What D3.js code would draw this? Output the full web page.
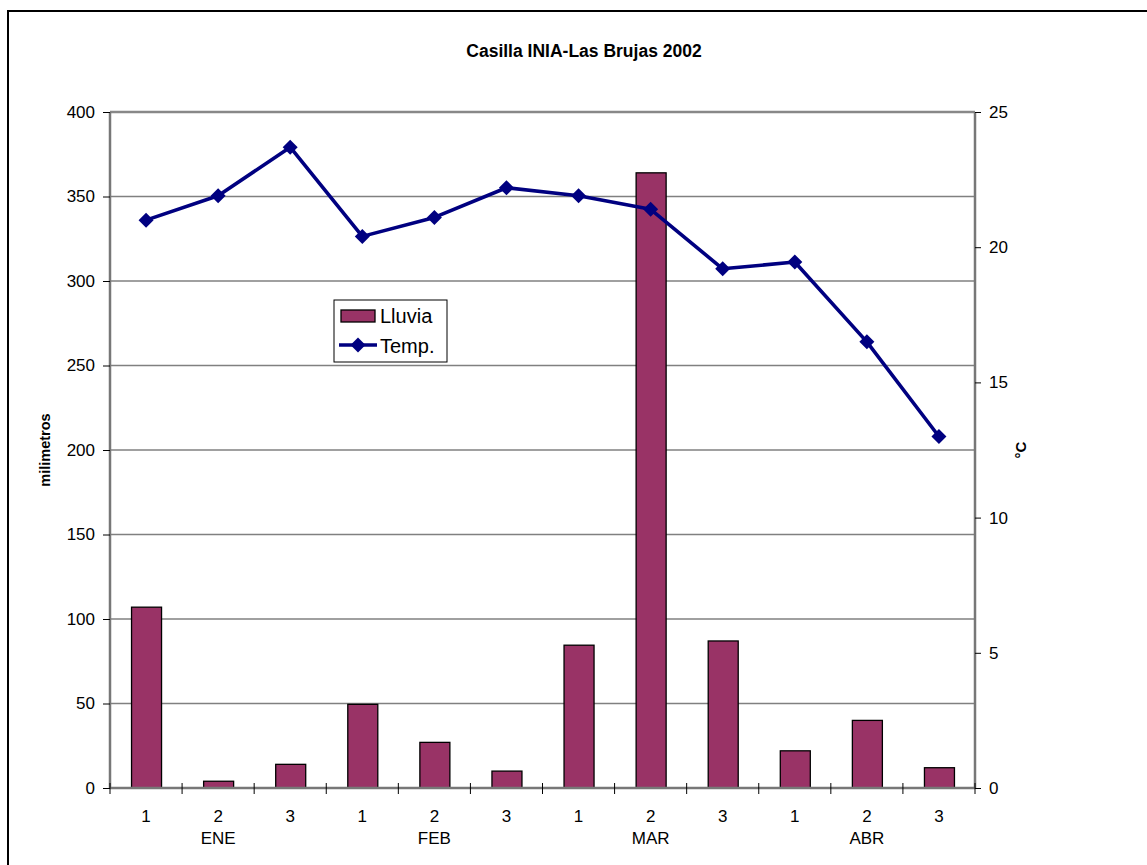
<!DOCTYPE html>
<html><head><meta charset="utf-8">
<script src="https://cdn.jsdelivr.net/npm/d3@7"></script>
<style>body{margin:0;background:#fff;} svg{display:block;font-family:"Liberation Sans",Arial,sans-serif;}</style>
</head><body><svg id="c" width="1147" height="865"></svg>
<script>
const categories = ["1","2","3","1","2","3","1","2","3","1","2","3"];
const months = ["ENE","FEB","MAR","ABR"];
const lluvia = [107, 4, 14, 49.5, 27, 10, 84.5, 364, 87, 22, 40, 12];
const temp = [21.0, 21.9, 23.7, 20.4, 21.1, 22.2, 21.9, 21.4, 19.2, 19.45, 16.5, 13.0];
const leftTicks = [0,50,100,150,200,250,300,350,400];
const rightTicks = [0,5,10,15,20,25];

const FF = "Liberation Sans, Arial, sans-serif";
const svg = d3.select("#c");
const L=110, R=975, T=112, B=788;

svg.append("rect").attr("x",8).attr("y",11).attr("width",1160).attr("height",880)
  .attr("fill","none").attr("stroke","#000").attr("stroke-width",2);

const x = d3.scaleBand().domain(d3.range(categories.length)).range([L,R]);
const yL = d3.scaleLinear().domain([0,400]).range([B,T]);
const yR = d3.scaleLinear().domain([0,25]).range([B,T]);

// gridlines
svg.append("g").selectAll("line").data(leftTicks.filter(d=>d>0&&d<400)).join("line")
  .attr("x1",L).attr("x2",R).attr("y1",d=>yL(d)).attr("y2",d=>yL(d))
  .attr("stroke","#808080").attr("stroke-width",1.3);

// bars
const bw = 30;
svg.append("g").selectAll("rect").data(lluvia).join("rect")
  .attr("x",(d,i)=>x(i)+x.bandwidth()/2-bw/2+0.5).attr("width",bw)
  .attr("y",d=>yL(d)).attr("height",d=>B-yL(d))
  .attr("fill","#993366").attr("stroke","#000").attr("stroke-width",1.3);

// frame
svg.append("line").attr("x1",L).attr("x2",R).attr("y1",T).attr("y2",T).attr("stroke","#888").attr("stroke-width",2.5);
svg.append("line").attr("x1",L).attr("x2",L).attr("y1",T).attr("y2",B).attr("stroke","#777").attr("stroke-width",2.5);
svg.append("line").attr("x1",R).attr("x2",R).attr("y1",T).attr("y2",B).attr("stroke","#777").attr("stroke-width",2.5);
svg.append("line").attr("x1",L).attr("x2",R).attr("y1",B).attr("y2",B).attr("stroke","#777").attr("stroke-width",2.5);

// left axis
const axL = d3.axisLeft(yL).tickValues(leftTicks).tickSize(7).tickPadding(8);
const gL = svg.append("g").attr("transform",`translate(${L},0)`).call(axL);
gL.attr("font-family",FF).attr("font-size",17);
gL.select(".domain").remove();
gL.selectAll("line").attr("stroke","#000");
gL.selectAll("text").attr("fill","#000");

// right axis
const axR = d3.axisRight(yR).tickValues(rightTicks).tickSize(6).tickPadding(8);
const gR = svg.append("g").attr("transform",`translate(${R},0)`).call(axR);
gR.attr("font-family",FF).attr("font-size",17);
gR.select(".domain").remove();
gR.selectAll("line").attr("stroke","#000");
gR.selectAll("text").attr("fill","#000");

// x ticks between categories
const bounds = d3.range(categories.length+1).map(i=> i<categories.length ? x(i) : R);
svg.append("g").selectAll("line").data(bounds).join("line")
  .attr("x1",d=>d).attr("x2",d=>d).attr("y1",B-5).attr("y2",B+6)
  .attr("stroke","#000").attr("stroke-width",1);

svg.append("g").attr("font-family",FF).attr("font-size",17).selectAll("text").data(categories).join("text")
  .attr("x",(d,i)=>x(i)+x.bandwidth()/2).attr("y",822).attr("text-anchor","middle").text(d=>d);
svg.append("g").attr("font-family",FF).attr("font-size",17).selectAll("text").data(months).join("text")
  .attr("x",(d,i)=>x(i*3+1)+x.bandwidth()/2).attr("y",844).attr("text-anchor","middle").text(d=>d);

// temp line
const line = d3.line().x((d,i)=>x(i)+x.bandwidth()/2).y(d=>yR(d));
svg.append("path").datum(temp).attr("d",line).attr("fill","none")
  .attr("stroke","#000080").attr("stroke-width",3.6).attr("stroke-linejoin","round");
const dm = "M0,-7.5L7.5,0L0,7.5L-7.5,0Z";
svg.append("g").selectAll("path").data(temp).join("path")
  .attr("transform",(d,i)=>`translate(${x(i)+x.bandwidth()/2},${yR(d)})`)
  .attr("d",dm).attr("fill","#000080");

// title & axis titles
svg.append("text").attr("x",584).attr("y",57).attr("text-anchor","middle").attr("font-family",FF)
  .attr("font-size",17.5).attr("font-weight","bold").text("Casilla INIA-Las Brujas 2002");
svg.append("text").attr("transform","translate(50,450) rotate(-90)").attr("text-anchor","middle").attr("font-family",FF)
  .attr("font-size",14.5).attr("font-weight","bold").text("milimetros");
svg.append("text").attr("transform","translate(1026,450) rotate(-90)").attr("text-anchor","middle").attr("font-family",FF)
  .attr("font-size",15).attr("font-weight","bold").text("°C");

// legend
const lg = svg.append("g").attr("font-family",FF);
lg.append("rect").attr("x",334).attr("y",300).attr("width",113).attr("height",62)
  .attr("fill","#fff").attr("stroke","#000").attr("stroke-width",1);
lg.append("rect").attr("x",341).attr("y",310).attr("width",34).attr("height",12)
  .attr("fill","#993366").attr("stroke","#000").attr("stroke-width",1.3);
lg.append("text").attr("x",380).attr("y",323).attr("font-size",20).text("Lluvia");
lg.append("line").attr("x1",339).attr("x2",377).attr("y1",345).attr("y2",345)
  .attr("stroke","#000080").attr("stroke-width",3.6);
lg.append("path").attr("transform","translate(358,345)").attr("d",dm).attr("fill","#000080");
lg.append("text").attr("x",380).attr("y",353).attr("font-size",20).text("Temp.");
</script></body></html>
